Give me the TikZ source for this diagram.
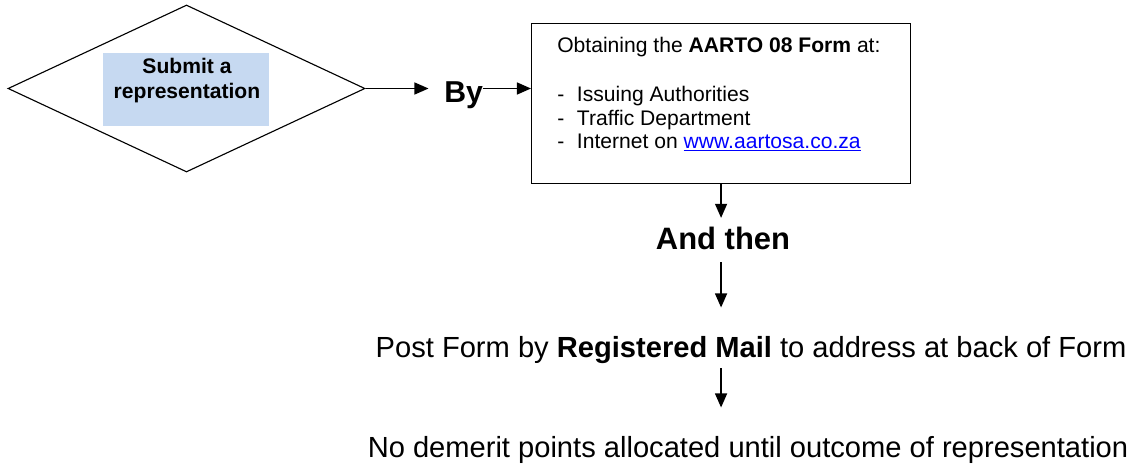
\documentclass[tikz,border=0pt]{standalone}
\usepackage{fontspec}
\setmainfont{Liberation Sans}
\usetikzlibrary{shapes.geometric,arrows.meta,positioning}

\definecolor{paleblue}{HTML}{C6D9F1}
\definecolor{linkblue}{HTML}{0000FF}

\tikzset{
  arr/.style={line width=1.1pt,-{Triangle[length=10pt,width=8.5pt]}},
  bigword/.style={font=\fontsize{22}{26}\selectfont\bfseries,inner sep=0pt},
  stepline/.style={font=\fontsize{20.7}{24}\selectfont,inner sep=0pt,anchor=base}
}
\newcommand{\listdash}{\makebox[14pt][l]{-}}

\begin{document}
\begin{tikzpicture}[x=0.025cm,y=-0.025cm]
\useasboundingbox (0,0) rectangle (1143,466);

% decision diamond with its shaded label
\node[diamond,draw,line width=0.8pt,inner sep=0pt,aspect=2.14,
      minimum width=357*0.025cm,minimum height=167*0.025cm] (dia) at (186.5,88.5) {};
\node[fill=paleblue,minimum width=166*0.025cm,minimum height=73*0.025cm,inner sep=0pt] (submit) at (186,89.5) {};
\node[anchor=north,align=center,font=\fontsize{15}{17.8}\selectfont\bfseries,inner sep=0pt]
     (sublbl) at (187,57.6) {Submit a\\representation};

\node[bigword,font=\fontsize{21.5}{26}\selectfont\bfseries,anchor=base west] (by) at (444,102) {By};

% where to get the form
\node[draw,line width=0.8pt,anchor=north west,inner sep=0pt,
      minimum width=379*0.025cm,minimum height=160*0.025cm] (form) at (531,23) {};
\node[anchor=north west,align=left,inner sep=0pt,font=\fontsize{15}{16.4}\selectfont]
     (formtxt) at (557,36.6)
  {Obtaining the \textbf{AARTO 08 Form} at:\\[19pt]
   \listdash Issuing Authorities\\
   \listdash Traffic Department\\
   \listdash Internet on \textcolor{linkblue}{\underline{www.aartosa.co.za}}};

\node[bigword,anchor=base] (andthen) at (723,249) {And then};
\node[stepline] (post) at (751,357) {Post Form by \textbf{Registered Mail} to address at back of Form};
\node[stepline] (nodem) at (748,457) {No demerit points allocated until outcome of representation};

\draw[arr,shorten >=11pt] (dia.east) -- (dia.east -| by.west);
\draw[arr] (by.east |- dia.east) -- (form.west |- dia.east);
\draw[arr,shorten >=6pt] (form.south) -- (form.south |- andthen.north);
\draw[arr,shorten <=9pt,shorten >=20pt] (form.south |- andthen.south) -- (form.south |- post.north);
\draw[arr,shorten <=3.5pt,shorten >=20pt] (form.south |- post.south) -- (form.south |- nodem.north);
\end{tikzpicture}
\end{document}
